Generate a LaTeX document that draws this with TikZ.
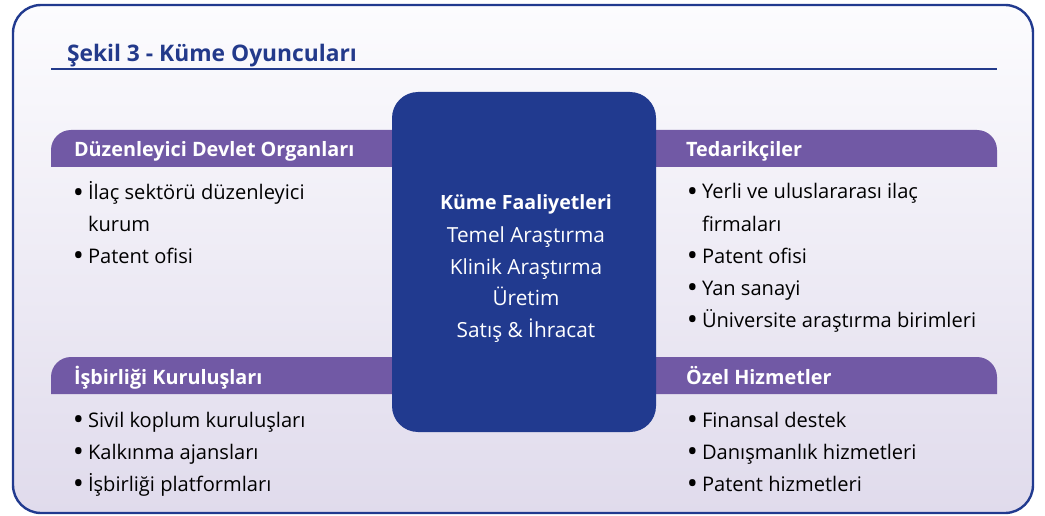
\documentclass[tikz,border=0pt]{standalone}
\usepackage{fontspec}
\setmainfont{Open Sans}
\definecolor{navy}{RGB}{33,58,143}
\definecolor{titleblue}{RGB}{35,58,139}
\definecolor{barpurple}{RGB}{113,89,165}
\definecolor{bgtop}{RGB}{252,252,254}
\definecolor{bgbottom}{RGB}{224,219,236}
\definecolor{ink}{RGB}{0,0,0}
\newcommand{\bul}{\makebox[14pt][l]{\raisebox{-0.5pt}{\bfseries\fontsize{23}{23}\selectfont\textbullet}}}
\begin{document}
\begin{tikzpicture}[x=1pt,y=1pt,
  txt/.style={anchor=base west,inner sep=0pt,outer sep=0pt},
  item/.style={txt,font=\fontsize{20.1}{22}\selectfont,text=ink},
  head/.style={txt,font=\bfseries\fontsize{19.8}{21}\selectfont,text=white},
  core/.style={anchor=base,inner sep=0pt,outer sep=0pt,font=\fontsize{20.8}{22}\selectfont,text=white},
  bar/.style={fill=barpurple}]
\useasboundingbox (0,0) rectangle (1045,-516);

% panel with soft vertical gradient and navy frame
\shade[top color=bgtop,bottom color=bgbottom,rounded corners=28] (13,-5) rectangle (1033,-513);
\draw[navy,line width=2.4pt,rounded corners=28] (13,-5) rectangle (1033,-513);

% title and rule
\node[txt,font=\bfseries\fontsize{22.8}{25}\selectfont,text=titleblue] (title) at (67,-62) {Şekil 3 - Küme Oyuncuları};
\draw[titleblue,line width=1.4pt] (51,-69) -- (997,-69);

% purple header bars
\fill[bar] (392,-167) -- (51,-167) -- (51,-150) arc[start angle=180,end angle=90,radius=20] -- (392,-130) -- cycle;
\fill[bar] (656,-130) -- (977,-130) arc[start angle=90,end angle=0,radius=20] -- (997,-167) -- (656,-167) -- cycle;
\fill[bar] (392,-394) -- (51,-394) -- (51,-377) arc[start angle=180,end angle=90,radius=20] -- (392,-357) -- cycle;
\fill[bar] (656,-357) -- (977,-357) arc[start angle=90,end angle=0,radius=20] -- (997,-394) -- (656,-394) -- cycle;

% central activity box
\fill[navy,rounded corners=26] (392,-92) rectangle (656,-432);
\node[core,font=\bfseries\fontsize{19.6}{21}\selectfont] (c0) at (526,-210) {Küme Faaliyetleri};
\node[core] (c1) at (526,-242) {Temel Araştırma};
\node[core] (c2) at (526,-274) {Klinik Araştırma};
\node[core] (c3) at (526,-305) {Üretim};
\node[core] (c4) at (526,-337) {Satış \& İhracat};

% headers
\node[head] (h1) at (74,-157) {Düzenleyici Devlet Organları};
\node[head] (h2) at (686,-157) {Tedarikçiler};
\node[head] (h3) at (74,-384) {İşbirliği Kuruluşları};
\node[head] (h4) at (686,-384) {Özel Hizmetler};

% regulators
\node[item] (a1) at (74,-200) {\bul İlaç sektörü düzenleyici};
\node[item] (a1b) at (88,-232) {kurum};
\node[item] (a2) at (74,-263) {\bul Patent ofisi};

% suppliers
\node[item] (b1) at (688,-199) {\bul Yerli ve uluslararası ilaç};
\node[item] (b1b) at (702,-231) {firmaları};
\node[item] (b2) at (688,-263) {\bul Patent ofisi};
\node[item] (b3) at (688,-295) {\bul Yan sanayi};
\node[item] (b4) at (688,-327) {\bul Üniversite araştırma birimleri};

% cooperation bodies
\node[item] (d1) at (74,-427) {\bul Sivil koplum kuruluşları};
\node[item] (d2) at (74,-459) {\bul Kalkınma ajansları};
\node[item] (d3) at (74,-491) {\bul İşbirliği platformları};

% private services
\node[item] (e1) at (688,-427) {\bul Finansal destek};
\node[item] (e2) at (688,-459) {\bul Danışmanlık hizmetleri};
\node[item] (e3) at (688,-491) {\bul Patent hizmetleri};
\end{tikzpicture}
\end{document}
